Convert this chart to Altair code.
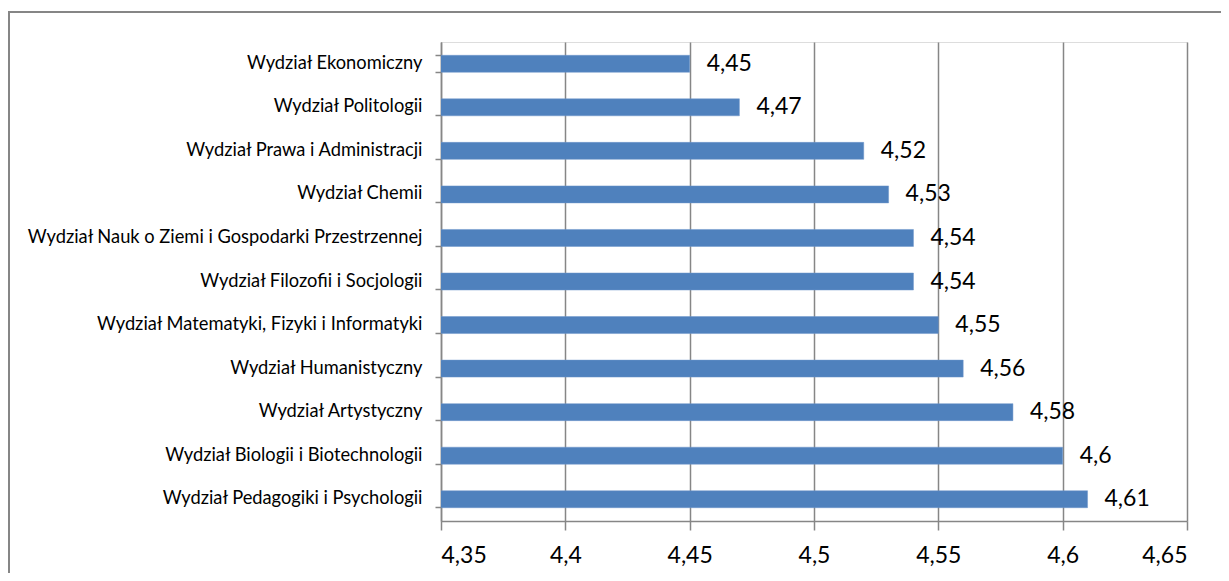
import altair as alt
import pandas as pd

faculties = [
    "Wydział Ekonomiczny",
    "Wydział Politologii",
    "Wydział Prawa i Administracji",
    "Wydział Chemii",
    "Wydział Nauk o Ziemi i Gospodarki Przestrzennej",
    "Wydział Filozofii i Socjologii",
    "Wydział Matematyki, Fizyki i Informatyki",
    "Wydział Humanistyczny",
    "Wydział Artystyczny",
    "Wydział Biologii i Biotechnologii",
    "Wydział Pedagogiki i Psychologii",
]
scores = [4.45, 4.47, 4.52, 4.53, 4.54, 4.54, 4.55, 4.56, 4.58, 4.60, 4.61]
x_ticks = [4.35, 4.40, 4.45, 4.50, 4.55, 4.60, 4.65]

df = pd.DataFrame({"faculty": faculties, "score": scores})

W, H = 746, 479
FONT = "Lato"
GRAY = "#868686"

x_enc = alt.X(
    "score:Q",
    scale=alt.Scale(domain=[4.35, 4.65], nice=False, zero=False),
    axis=alt.Axis(
        values=x_ticks,
        title=None,
        labelExpr="replace(format(datum.value, '.2~f'), '.', ',')",
        labelFontSize=23,
        labelFont=FONT,
        labelColor="black",
        labelPadding=14,
        tickSize=9,
        tickColor=GRAY,
        tickWidth=1.5,
        domainColor=GRAY,
        domainWidth=1.5,
        grid=True,
        gridColor=GRAY,
        gridWidth=1.5,
        gridOpacity=1,
    ),
)
y_enc = alt.Y(
    "faculty:N",
    sort=faculties,
    scale=alt.Scale(paddingInner=0.61, paddingOuter=0.305),
    axis=alt.Axis(
        title=None,
        labelFontSize=18.3,
        labelFont=FONT,
        labelColor="black",
        labelPadding=13,
        labelLimit=0,
        bandPosition=1,
        tickExtra=True,
        tickSize=6,
        tickColor=GRAY,
        tickWidth=1.5,
        domainColor=GRAY,
        domainWidth=1.5,
        grid=False,
    ),
)

base = alt.Chart(df)
bars = base.mark_bar(color="#4F81BD", stroke="#6E97CB", strokeWidth=0.5, clip=True).encode(x=x_enc, y=y_enc)
labels = base.transform_calculate(
    lab="replace(format(datum.score, '.2~f'), '.', ',')"
).mark_text(align="left", baseline="middle", dx=17, fontSize=23, font=FONT, color="black").encode(
    x="score:Q", y=alt.Y("faculty:N", sort=faculties), text="lab:N"
)
frame = alt.Chart(df).mark_rect(fill=None, stroke=GRAY, strokeWidth=1.5).encode(
    x=alt.value(9 - 441), x2=alt.value(1240 - 441), y=alt.value(12 - 42), y2=alt.value(600 - 42)
)

chart = (
    alt.layer(frame, bars, labels)
    .properties(
        width=W,
        height=H,
        autosize=alt.AutoSizeParams(type="none"),
        padding={"left": 433, "top": 34, "right": 34, "bottom": 52},
    )
    .configure_view(stroke=None)
    .configure(background="white")
)

chart.save("out.html", embed_options={"renderer": "svg", "actions": False})
